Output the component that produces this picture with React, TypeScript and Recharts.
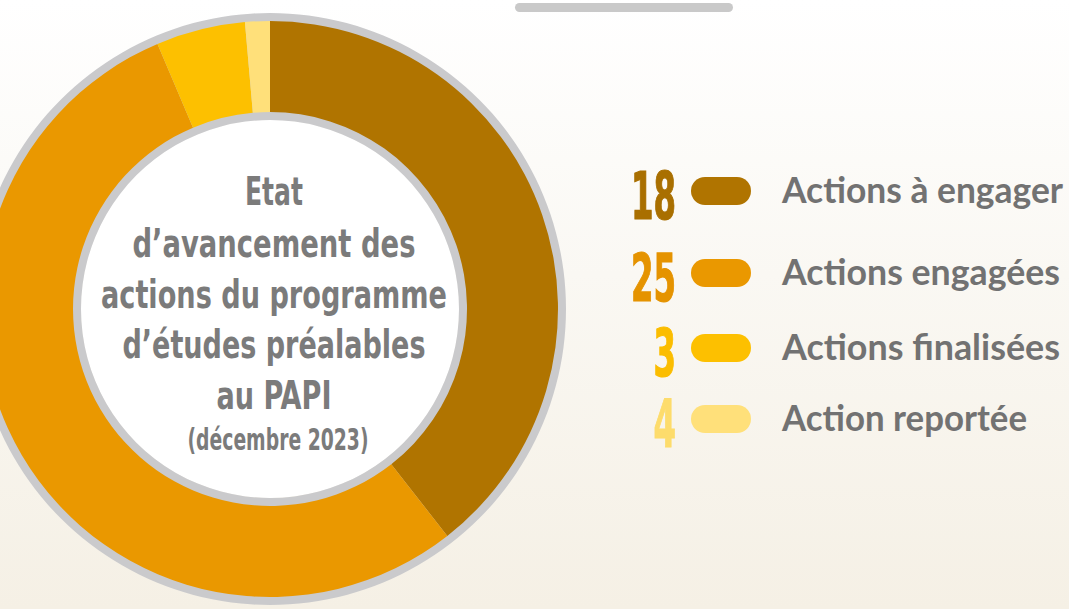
import { Cell, Customized, Pie, PieChart } from 'recharts'

const categories = ['Actions à engager', 'Actions engagées', 'Actions finalisées', 'Action reportée']
const counts = [18, 25, 3, 4]
// how much of the ring each slice covers in the infographic (degrees)
const sliceDegrees = [142, 195, 18, 5]
const sliceColors = ['#b07400', '#ea9800', '#fdc000', '#ffe07a']
const numberColors = ['#a96f00', '#e59300', '#fbbd00', '#fddc6c']
const titleLines = ['Etat', 'd’avancement des', 'actions du programme', 'd’études préalables', 'au PAPI']
const subtitle = '(décembre 2023)'

const W = 1069
const H = 609
const CX = 270
const CY = 309
const RING_GREY = '#cacacc'

const condensed = "'Liberation Sans Narrow', 'DejaVu Sans Condensed', 'Liberation Sans', sans-serif"

// layout of the overlay texts
const TITLE_WIDTHS = [58, 283, 346, 303, 115]
const TITLE_Y = [205, 257, 308, 358, 409]
const ROW_Y = [191, 273, 348, 419]
const LABEL_WIDTHS = [281, 278, 278, 245]

const data = categories.map((name, i) => ({ name, count: counts[i], value: sliceDegrees[i] }))
const whole = [{ name: 'ring', value: 1 }]

function Overlay() {
  const textX = 274
  return (
    <g>
      <rect x={515} y={3} width={218} height={9} rx={4.5} fill="#c9c9c9" />
      <circle cx={CX} cy={CY} r={189} fill="#ffffff" />
      {titleLines.map((line, i) => (
        <text
          key={line}
          x={textX - TITLE_WIDTHS[i] / 2}
          y={TITLE_Y[i]}
          textLength={TITLE_WIDTHS[i]}
          lengthAdjust="spacingAndGlyphs"
          fontFamily={condensed}
          fontWeight={700}
          fontSize={39}
          fill="#7b7b7b"
        >
          {line}
        </text>
      ))}
      <text
        x={textX + 4 - 181 / 2}
        y={450}
        textLength={181}
        lengthAdjust="spacingAndGlyphs"
        fontFamily={condensed}
        fontWeight={700}
        fontSize={31}
        fill="#7b7b7b"
      >
        {subtitle}
      </text>

      {data.map((d, i) => {
        const y = ROW_Y[i]
        const digits = String(d.count)
        const w = digits.length * 22.5
        return (
          <g key={d.name}>
            <text
              x={676 - w}
              y={y + 28}
              textLength={w}
              lengthAdjust="spacingAndGlyphs"
              fontFamily={condensed}
              fontWeight={700}
              fontSize={66}
              fill={numberColors[i]}
              stroke={numberColors[i]}
              strokeWidth={1.2}
            >
              {digits}
            </text>
            <rect x={691} y={y - 14} width={60} height={28} rx={14} fill={sliceColors[i]} />
            <text
              x={782}
              y={y + 12}
              textLength={LABEL_WIDTHS[i]}
              lengthAdjust="spacingAndGlyphs"
              fontFamily="Lato, 'Open Sans', sans-serif"
              fontWeight={700}
              fontSize={36}
              fill="#727272"
            >
              {d.name}
            </text>
          </g>
        )
      })}
    </g>
  )
}

export default function App() {
  return (
    <div
      style={{
        position: 'fixed',
        left: 0,
        top: 0,
        width: W,
        height: H,
        overflow: 'hidden',
        background: 'linear-gradient(180deg, #ffffff 0%, #faf8f3 45%, #f5f0e5 100%)',
      }}
    >
      <PieChart width={W} height={H} margin={{ top: 0, right: 0, bottom: 0, left: 0 }}>
        <Pie
          data={whole}
          dataKey="value"
          cx={CX}
          cy={CY}
          innerRadius={189}
          outerRadius={296}
          stroke="none"
          isAnimationActive={false}
          legendType="none"
        >
          <Cell fill={RING_GREY} />
        </Pie>
        <Pie
          data={data}
          dataKey="value"
          nameKey="name"
          cx={CX}
          cy={CY}
          innerRadius={197}
          outerRadius={288}
          startAngle={90}
          endAngle={-270}
          stroke="none"
          isAnimationActive={false}
        >
          {data.map((d, i) => (
            <Cell key={d.name} fill={sliceColors[i]} />
          ))}
        </Pie>
        <Customized component={<Overlay />} />
      </PieChart>
    </div>
  )
}
